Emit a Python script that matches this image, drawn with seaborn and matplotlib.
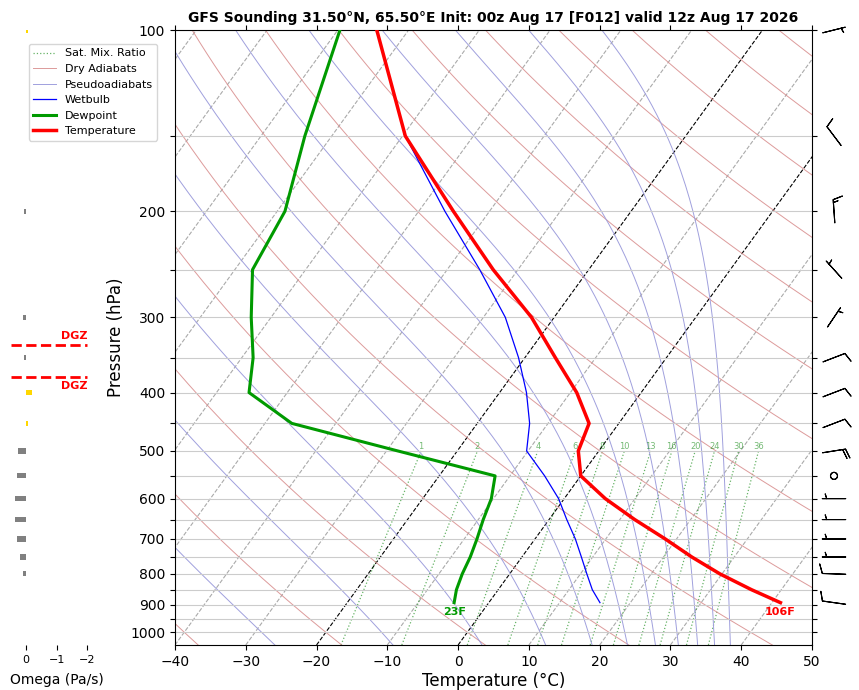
import numpy as np
import matplotlib
matplotlib.use("Agg")
import matplotlib.pyplot as plt
from matplotlib.ticker import NullLocator
import seaborn as sns

TITLE = "GFS Sounding 31.50°N, 65.50°E Init: 00z Aug 17 [F012] valid 12z Aug 17 2026"

# sounding, surface first (hPa / degC)
pres = [893, 850, 800, 750, 700, 650, 600, 550, 500, 450, 400, 350, 300, 250, 200, 150, 100]
temp = [41.2, 35.8, 29.7, 24.0, 18.4, 12.1, 5.8, 0.0, -2.9, -4.2, -9.1, -15.7, -23.2, -33.5, -45.1, -59.6, -74.5]
dewp = [-4.9, -5.9, -6.7, -7.3, -8.2, -9.3, -10.3, -12.1, -28.4, -46.2, -55.4, -58.4, -62.8, -67.5, -68.9, -73.8, -79.7]
wetb = [15.7, 13.3, 10.9, 8.4, 5.7, 2.5, -0.8, -5.1, -10.2, -12.6, -16.2, -20.9, -26.9, -35.4, -46.3, -59.6, -74.5]

# winds (deg / kt)
wind_p = [100, 150, 200, 250, 300, 350, 400, 450, 500, 550, 600, 650, 700, 750, 800, 893]
wind_dir = [76, 323, 356, 318, 34, 69, 69, 69, 81, 0, 270, 270, 270, 270, 272, 278]
wind_spd = [5, 10, 15, 5, 5, 10, 10, 10, 20, 0, 5, 5, 5, 5, 10, 10]

# omega (Pa/s)
omega_p = [100, 200, 300, 350, 400, 450, 500, 550, 600, 650, 700, 750, 800]
omega = [-0.05, 0.08, 0.1, 0.08, -0.2, -0.08, 0.27, 0.3, 0.37, 0.37, 0.3, 0.2, 0.1]

mix_ratios = [1, 2, 4, 6, 8, 10, 13, 16, 20, 24, 30, 36]

P_BOT, P_TOP = 1050, 100
SKEW = 61.7  # degC shift per decade of pressure


def skx(t, p):
    return np.asarray(t, float) + SKEW * np.log10(P_BOT / np.asarray(p, float))


def sat_mr(t_k, p):
    tc = t_k - 273.15
    es = 6.112 * np.exp(17.67 * tc / (tc + 243.5))
    return 0.622 * es / (p - es)


def moist_dtdp(t_k, p):
    rs = sat_mr(t_k, p)
    num = 287.04 * t_k + 2.501e6 * rs
    den = 1005.7 + 2.501e6 ** 2 * rs * 0.622 / (287.04 * t_k ** 2)
    return num / den / p


def moist_profile(t_top, plev):
    t = t_top + 273.15
    out = [t]
    for p0, p1 in zip(plev[:-1], plev[1:]):
        h = p1 - p0
        k1 = moist_dtdp(t, p0)
        k2 = moist_dtdp(t + h / 2 * k1, p0 + h / 2)
        k3 = moist_dtdp(t + h / 2 * k2, p0 + h / 2)
        k4 = moist_dtdp(t + h * k3, p1)
        t = t + h / 6 * (k1 + 2 * k2 + 2 * k3 + k4)
        out.append(t)
    return np.array(out) - 273.15


def mr_dewpoint(w_gkg, p):
    w = w_gkg / 1000.0
    e = w * p / (0.622 + w)
    a = np.log(e / 6.112)
    return 243.5 * a / (17.67 - a)


fig = plt.figure(figsize=(8.59, 6.90), dpi=100)
ax = fig.add_axes([175 / 859, 45 / 690, 637 / 859, 615 / 690])
ax.set_yscale("log")

# isotherms
for t in range(-120, 60, 10):
    col = "black" if t in (0, -20) else "#aaaaaa"
    ax.plot(skx([t, t], [P_BOT, P_TOP]), [P_BOT, P_TOP], ls="--", lw=0.8, color=col, zorder=1)

# mixing ratio lines
p_mr = np.array([P_BOT, 500])
for i, w in enumerate(mix_ratios):
    td = mr_dewpoint(w, p_mr)
    ax.plot(skx(td, p_mr), p_mr, ls=":", lw=0.9, color="green", alpha=0.6, zorder=1,
            label="Sat. Mix. Ratio" if i == 0 else None)
    ax.text(skx(td[-1], 500), 500, f"{w}", fontsize=6, color="green", alpha=0.55,
            ha="center", va="bottom", zorder=2)

# dry adiabats
p_line = np.linspace(P_TOP, P_BOT, 200)
for i, th in enumerate(range(-60, 260, 20)):
    t = (th + 273.15) * (p_line / 1000.0) ** 0.2857 - 273.15
    ax.plot(skx(t, p_line), p_line, lw=0.7, color="#d99090", alpha=0.9, zorder=1,
            label="Dry Adiabats" if i == 0 else None)

# pseudoadiabats, started from 100 hPa
for i, t_top in enumerate(-42.7 - 10.35 * np.arange(13)):
    t = moist_profile(t_top, p_line)
    ax.plot(skx(t, p_line), p_line, lw=0.7, color="#a0a0dd", zorder=1,
            label="Pseudoadiabats" if i == 0 else None)

# sounding
sns.lineplot(x=skx(wetb, pres), y=pres, orient="y", estimator=None, color="blue",
             lw=0.9, label="Wetbulb", ax=ax, zorder=4)
sns.lineplot(x=skx(dewp, pres), y=pres, orient="y", estimator=None, color="#009a00",
             lw=2.2, label="Dewpoint", ax=ax, zorder=5)
sns.lineplot(x=skx(temp, pres), y=pres, orient="y", estimator=None, color="red",
             lw=2.5, label="Temperature", ax=ax, zorder=6)
if ax.get_legend() is not None:
    ax.get_legend().remove()

ax.annotate(f"{round(temp[0] * 9 / 5 + 32)}F", xy=(skx(temp[0], pres[0]), pres[0]),
            xytext=(0, -3), textcoords="offset points", ha="center", va="top",
            color="red", fontsize=8, fontweight="bold")
ax.annotate(f"{round(dewp[0] * 9 / 5 + 32)}F", xy=(skx(dewp[0], pres[0]), pres[0]),
            xytext=(0, -3), textcoords="offset points", ha="center", va="top",
            color="#009a00", fontsize=8, fontweight="bold")

yt = list(range(100, 1001, 50))
ax.set_yticks(yt)
ax.set_yticklabels([str(p) if p % 100 == 0 else "" for p in yt])
ax.yaxis.set_minor_locator(NullLocator())
ax.grid(axis="y", color="#cccccc", lw=0.8)
ax.set_xticks(range(-40, 51, 10))
ax.set_xlim(-40, 50)
ax.set_ylim(P_BOT, P_TOP)
ax.tick_params(top=True, right=True, labelsize=10)
ax.set_xlabel("Temperature (°C)", fontsize=12, labelpad=2)
ax.set_ylabel("Pressure (hPa)", fontsize=12)
ax.set_title(TITLE, fontsize=10, fontweight="bold")

# omega panel
ax_om = fig.add_axes([10.7 / 859, 45 / 690, 92 / 859, 615 / 690])
ax_om.set_yscale("log")
cols = ["gold" if w < 0 else "gray" for w in omega]
ax_om.barh(omega_p, omega, height=0.02 * np.array(omega_p), color=cols)

# dendritic growth zone (-12 to -18 C)
lp = np.log(pres)
p_dgz = np.exp(np.interp([-18, -12], temp[::-1], lp[::-1]))
ax_om.hlines(p_dgz, 0.5, -2, colors="red", linestyles="--", lw=2)
ax_om.annotate("DGZ", xy=(-2, p_dgz[0]), xytext=(0, 3), textcoords="offset points",
               color="red", fontsize=8, fontweight="bold", ha="right", va="bottom")
ax_om.annotate("DGZ", xy=(-2, p_dgz[1]), xytext=(0, -3), textcoords="offset points",
               color="red", fontsize=8, fontweight="bold", ha="right", va="top")
ax_om.set_xlim(0.5, -2.5)
ax_om.set_ylim(P_BOT, P_TOP)
ax_om.set_xticks([0, -1, -2])
for s in ax_om.spines.values():
    s.set_visible(False)
ax_om.tick_params(axis="y", which="both", left=False, labelleft=False)
ax_om.tick_params(axis="x", labelsize=8)
ax_om.set_xlabel("Omega (Pa/s)", fontsize=10, labelpad=6)

# wind barbs
ax_w = fig.add_axes([813 / 859, 45 / 690, 42 / 859, 615 / 690])
ax_w.set_yscale("log")
wd = np.deg2rad(wind_dir)
u = -np.array(wind_spd) * np.sin(wd)
v = -np.array(wind_spd) * np.cos(wd)
ax_w.barbs(np.zeros(len(wind_p)), wind_p, u, v, length=5.8, pivot="middle", lw=0.8, clip_on=False)
ax_w.set_xlim(-1, 1)
ax_w.set_ylim(P_BOT, P_TOP)
ax_w.axis("off")

handles, labels = ax.get_legend_handles_labels()
fig.legend(handles, labels, loc="upper left", bbox_to_anchor=(29 / 859, 1 - 44 / 690),
           fontsize=8, borderaxespad=0)

fig.savefig("out.png", dpi=100)
